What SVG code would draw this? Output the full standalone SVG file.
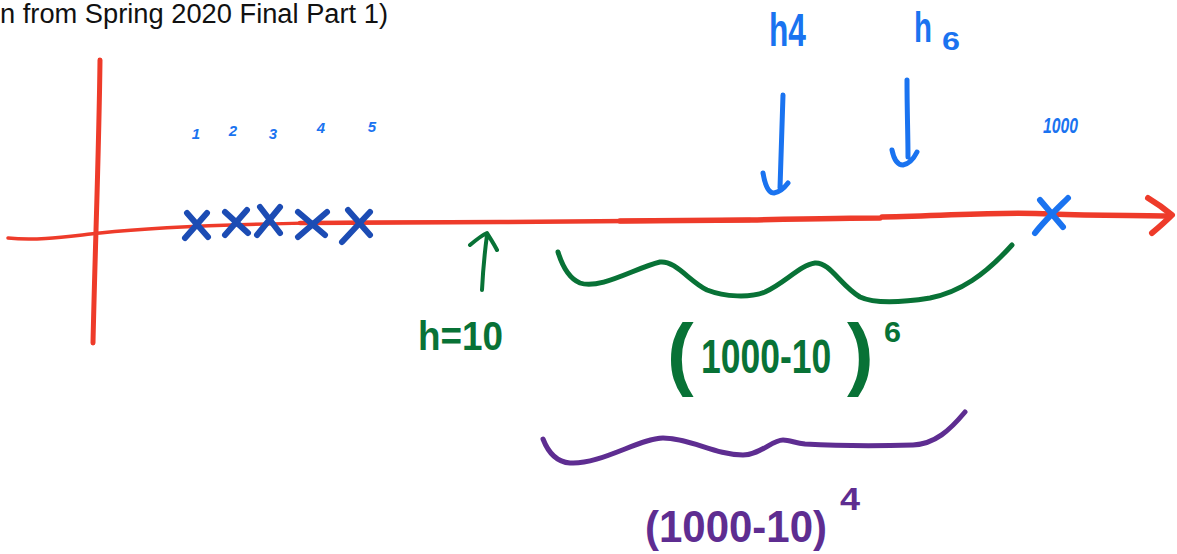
<svg xmlns="http://www.w3.org/2000/svg" width="1177" height="554" viewBox="0 0 1177 554">
<style>
.ink{fill:none;stroke-linecap:round;stroke-linejoin:round}
.red{stroke:#EE3B2A}
.blue{stroke:#1A73F0}
.dblue{stroke:#1C4CB4}
.green{stroke:#087236}
.purple{stroke:#5E2D91}
.title{font-family:"Liberation Sans",Arial,sans-serif;font-size:27px;fill:#111}
.hand{font-family:"Liberation Sans",Arial,sans-serif;font-weight:bold}
.tb{fill:#1A73F0}
.tg{fill:#087236}
.tp{fill:#5E2D91}
</style>
<rect width="1177" height="554" fill="#fff"/>
<text class="title" x="0" y="23" textLength="388" lengthAdjust="spacingAndGlyphs">n from Spring 2020 Final Part 1)</text>

<g id="axes">
  <path class="ink red" stroke-width="5" d="M100,60 C99,150 95,250 93,343"/>
  <path class="ink red" stroke-width="3.5" d="M8,238 C40,241 70,236 100,233 C200,222 380,222 500,222"/>
  <path class="ink red" stroke-width="4.5" d="M300,223 C380,222 440,222 500,222 L750,220"/>
  <path class="ink red" stroke-width="5.5" d="M620,221 L750,220 C800,219 850,218 880,218 M882,217 C950,216 1000,211 1050,214 C1100,216 1140,215 1170,216"/>
  <path class="ink red" stroke-width="6" d="M1148,198 C1158,204 1166,210 1172,215 C1165,222 1158,228 1152,233"/>
</g>

<g id="tick-labels" class="hand tb" font-style="italic" font-size="15" text-anchor="middle">
  <text x="196" y="139">1</text>
  <text x="233" y="136">2</text>
  <text x="273" y="139">3</text>
  <text x="321" y="133">4</text>
  <text x="372" y="132">5</text>
</g>

<g id="points" class="ink dblue" stroke-width="6">
  <path d="M187,213 L208,237 M207,213 L185,238"/>
  <path d="M225,212 L248,233 M247,210 L225,235"/>
  <path d="M260,207 L280,233 M280,207 L257,235"/>
  <path d="M298,212 L325,235 M327,212 L298,237"/>
  <path d="M348,210 L370,235 M370,212 L342,242"/>
</g>

<g id="point-1000">
  <text class="hand tb" font-style="italic" font-size="22" x="1043" y="133" textLength="35" lengthAdjust="spacingAndGlyphs">1000</text>
  <path class="ink blue" stroke-width="6" d="M1040,200 L1063,227 M1068,198 C1060,206 1045,220 1035,233"/>
</g>

<g id="label-h4">
  <text class="hand tb" font-size="46" x="769" y="46" textLength="37" lengthAdjust="spacingAndGlyphs">h4</text>
</g>
<g id="label-h6">
  <text class="hand tb" font-size="42" x="914" y="42" textLength="18" lengthAdjust="spacingAndGlyphs">h</text>
  <text class="hand tb" font-size="26" x="942" y="50" textLength="18" lengthAdjust="spacingAndGlyphs">6</text>
</g>

<g id="label-h10">
  <text class="hand tg" font-size="40" x="418" y="350" textLength="85" lengthAdjust="spacingAndGlyphs">h=10</text>
</g>

<g id="connectors">
  <path class="ink blue" stroke-width="5" d="M783,95 C782,130 781,160 780,188 M763,173 C765,185 768,193 774,193 C780,192 785,187 788,183"/>
  <path class="ink blue" stroke-width="5" d="M907,80 C907,110 908,135 908,157 M892,150 C894,160 898,165 903,165 C909,164 914,158 917,152"/>
  <path class="ink green" stroke-width="4" d="M482,290 C483,270 485,250 487,235 M470,245 C476,240 482,235 487,233 C490,238 494,244 497,250"/>
</g>

<g id="brace-6">
  <path class="ink green" stroke-width="5" d="M558,252 C562,265 568,278 580,283 C600,290 635,268 660,262 C675,260 690,282 707,290 C725,297 750,298 765,292 C785,283 800,265 815,263 C830,262 840,285 860,297 C875,304 905,302 930,298 C960,292 985,275 1012,245"/>
</g>
<g id="expr-6">
  <text class="hand tg" font-size="80" x="667" y="380">(</text>
  <text class="hand tg" font-size="48" transform="translate(701,373) scale(0.74,1)">1000-10</text>
  <text class="hand tg" font-size="80" x="847" y="380">)</text>
  <text class="hand tg" font-size="30" x="884" y="342" textLength="17" lengthAdjust="spacingAndGlyphs">6</text>
</g>

<g id="brace-4">
  <path class="ink purple" stroke-width="5" d="M543,439 C548,452 556,462 570,463 C600,465 640,438 663,438 C690,438 715,455 743,455 C760,455 772,440 783,440 C790,440 795,443 805,444 C840,446 880,446 913,445 C935,444 950,430 965,412"/>
</g>
<g id="expr-4">
  <text class="hand tp" font-size="44" x="645" y="542" textLength="182" lengthAdjust="spacingAndGlyphs">(1000-10)</text>
  <text class="hand tp" font-size="32" x="840" y="510" textLength="20" lengthAdjust="spacingAndGlyphs">4</text>
</g>
</svg>
